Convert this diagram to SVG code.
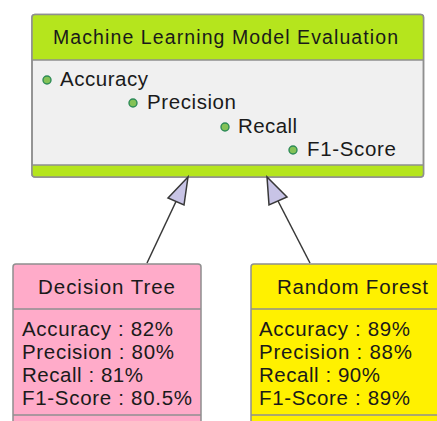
<svg xmlns="http://www.w3.org/2000/svg" width="437" height="421" viewBox="0 0 437 421">
<style>
text{font-family:"Liberation Sans",Arial,sans-serif;fill:#1a1a1a}
.t{font-size:19.5px}
.a{font-size:20.5px}
.box{stroke:#8f8f8f;stroke-width:1.5}
.div{stroke:#8f8f8f;stroke-width:1.5}
.dot{fill:#84c256;stroke:#2e8b57;stroke-width:1.4}
.edge{stroke:#383838;stroke-width:1.5;fill:none}
.head{fill:#c8c4e6;stroke:#383838;stroke-width:1.5}
</style>
<rect width="437" height="421" fill="#ffffff"/>
<g id="evaluation">
<rect class="box" x="32" y="14.5" width="391.5" height="162.5" rx="3" fill="#f0f0f0"/>
<path d="M32 60 V17.5 a3 3 0 0 1 3 -3 H420.5 a3 3 0 0 1 3 3 V60 Z" fill="#b5e51d"/>
<path d="M32 165 H423.5 V174 a3 3 0 0 1 -3 3 H35 a3 3 0 0 1 -3 -3 Z" fill="#b5e51d"/>
<rect x="32" y="14.5" width="391.5" height="162.5" rx="3" fill="none" class="box"/>
<line class="div" x1="32" y1="60" x2="423.5" y2="60"/>
<line class="div" x1="32" y1="165" x2="423.5" y2="165"/>
<text class="t" x="53" y="44" textLength="345" lengthAdjust="spacing">Machine Learning Model Evaluation</text>
<circle class="dot" cx="47" cy="80" r="4"/>
<text class="a" x="60" y="85.5" textLength="88" lengthAdjust="spacing">Accuracy</text>
<circle class="dot" cx="133" cy="103" r="4"/>
<text class="a" x="147" y="108.5" textLength="89" lengthAdjust="spacing">Precision</text>
<circle class="dot" cx="225" cy="127" r="4"/>
<text class="a" x="238" y="132.5" textLength="59" lengthAdjust="spacing">Recall</text>
<circle class="dot" cx="293" cy="150" r="4"/>
<text class="a" x="307" y="155.5" textLength="89" lengthAdjust="spacing">F1-Score</text>
</g>
<g id="decision-tree">
<rect class="box" x="13" y="264" width="188" height="170" rx="3" fill="#ffabc9"/>
<line class="div" x1="13" y1="309" x2="201" y2="309"/>
<line class="div" x1="13" y1="415" x2="201" y2="415"/>
<text class="a" x="38" y="294" textLength="137" lengthAdjust="spacing">Decision Tree</text>
<text class="a" x="22" y="335.5" textLength="151" lengthAdjust="spacing">Accuracy : 82%</text>
<text class="a" x="22" y="358.5" textLength="152" lengthAdjust="spacing">Precision : 80%</text>
<text class="a" x="22" y="381.5" textLength="121" lengthAdjust="spacing">Recall : 81%</text>
<text class="a" x="22" y="404.5" textLength="170" lengthAdjust="spacing">F1-Score : 80.5%</text>
</g>
<g id="random-forest">
<rect class="box" x="251" y="264" width="200" height="170" rx="3" fill="#fff100"/>
<line class="div" x1="251" y1="309" x2="437" y2="309"/>
<line class="div" x1="251" y1="415" x2="437" y2="415"/>
<text class="a" x="277" y="294" textLength="151" lengthAdjust="spacing">Random Forest</text>
<text class="a" x="259" y="335.5" textLength="151" lengthAdjust="spacing">Accuracy : 89%</text>
<text class="a" x="259" y="358.5" textLength="153" lengthAdjust="spacing">Precision : 88%</text>
<text class="a" x="259" y="381.5" textLength="121" lengthAdjust="spacing">Recall : 90%</text>
<text class="a" x="259" y="404.5" textLength="151" lengthAdjust="spacing">F1-Score : 89%</text>
</g>
<g id="connectors">
<line class="edge" x1="147" y1="263" x2="176" y2="201.5"/>
<polygon class="head" points="188,177 168,198 184,205"/>
<line class="edge" x1="310" y1="263" x2="278" y2="201"/>
<polygon class="head" points="267,177 269,205 287,197"/>
</g>
</svg>
